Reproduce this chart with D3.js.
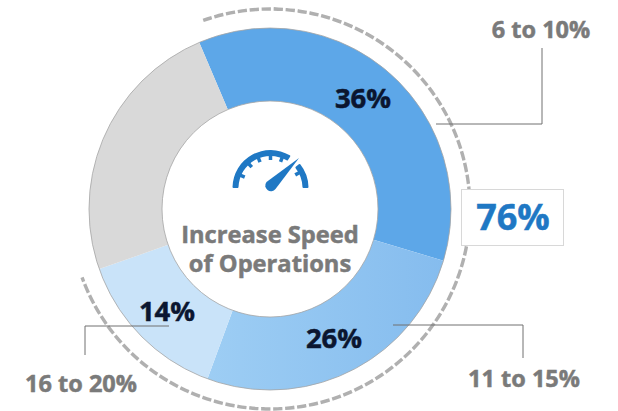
<!DOCTYPE html>
<html>
<head>
<meta charset="utf-8">
<script src="https://cdn.jsdelivr.net/npm/d3@7"></script>
<style>
  html, body { margin: 0; padding: 0; background: #fff; }
  svg { display: block; }
  text { font-family: "Open Sans", sans-serif; font-weight: 700; stroke-width: 0.5; paint-order: stroke; }
</style>
</head>
<body>
<div id="chart"></div>
<script>
// Data
const categories = ["6 to 10%", "11 to 15%", "16 to 20%", "Other"];
const shares = [36, 26, 14, 24];
const colors = ["#5da7e8", "url(#slice26)", "#c9e3f9", "#d9d9d9"];
const titleLines = ["Increase Speed", "of Operations"];
const totalLabel = "76%";
const gaugeTicks = [-67, -42, -22, 0, 21, 62];

const width = 618, height = 411;
const cx = 270, cy = 209;
const outer = 181, inner = 108, dashR = 200;

const svg = d3.select("#chart").append("svg")
  .attr("width", width)
  .attr("height", height);

const deg = d => d * Math.PI / 180;

// The 26% slice gets lighter toward the left
const grad = svg.append("defs").append("linearGradient")
  .attr("id", "slice26")
  .attr("gradientUnits", "userSpaceOnUse")
  .attr("x1", -70).attr("x2", 175)
  .attr("y1", 0).attr("y2", 0);
grad.append("stop").attr("offset", 0).attr("stop-color", "#9ecef4");
grad.append("stop").attr("offset", 1).attr("stop-color", "#85bcee");

const g = svg.append("g").attr("transform", `translate(${cx},${cy})`);

// Donut
const pie = d3.pie().sort(null)
  .startAngle(deg(-23))
  .endAngle(deg(337));
const arc = d3.arc().innerRadius(inner).outerRadius(outer);

g.selectAll("path.slice")
  .data(pie(shares))
  .join("path")
  .attr("class", "slice")
  .attr("d", arc)
  .attr("fill", (d, i) => colors[i]);

// Thin outline on the ring edges only
g.selectAll("circle.edge")
  .data([outer, inner])
  .join("circle")
  .attr("class", "edge")
  .attr("r", d => d)
  .attr("fill", "none")
  .attr("stroke", "#a4a4a4")
  .attr("stroke-width", 0.8);

// Dashed arc around the first three slices
g.append("path")
  .attr("d", d3.arc().innerRadius(dashR).outerRadius(dashR)
    .startAngle(deg(-19.5)).endAngle(deg(250))())
  .attr("fill", "none")
  .attr("stroke", "#b0b0b0")
  .attr("stroke-width", 3.4)
  .attr("stroke-dasharray", "9 3");

// Leader lines
const leaders = [
  [[436, 124], [542, 124], [542, 48]],
  [[393, 325], [523, 325], [523, 358]],
  [[169, 326], [85, 326], [85, 355]]
];
svg.selectAll("path.leader")
  .data(leaders)
  .join("path")
  .attr("class", "leader")
  .attr("d", d3.line())
  .attr("fill", "none")
  .attr("stroke", "#707070")
  .attr("stroke-width", 1);

// Category labels
const catPos = [[541, 30], [524, 379], [81, 384]];
svg.selectAll("text.cat")
  .data(categories.slice(0, 3))
  .join("text")
  .attr("class", "cat")
  .attr("x", (d, i) => catPos[i][0])
  .attr("y", (d, i) => catPos[i][1] + 8)
  .attr("text-anchor", "middle")
  .attr("font-size", 23.5)
  .attr("fill", "#7a7a7a")
  .attr("stroke", "#7a7a7a")
  .text(d => d);

// Percent labels on the slices
const pctPos = [[363, 98], [334, 338], [167, 311]];
svg.selectAll("text.pct")
  .data(shares.slice(0, 3))
  .join("text")
  .attr("class", "pct")
  .attr("x", (d, i) => pctPos[i][0])
  .attr("y", (d, i) => pctPos[i][1] + 10)
  .attr("text-anchor", "middle")
  .attr("font-size", 27.5)
  .attr("fill", "#0b1630")
  .attr("stroke", "#0b1630")
  .text(d => d + "%");

// Total box
svg.append("rect")
  .attr("x", 461.5).attr("y", 189.5)
  .attr("width", 102).attr("height", 56)
  .attr("fill", "#fff")
  .attr("stroke", "#d8d8d8");
svg.append("text")
  .attr("x", 513).attr("y", 230)
  .attr("text-anchor", "middle")
  .attr("font-size", 36)
  .attr("fill", "#1f78c4")
  .attr("stroke", "#1f78c4")
  .text(totalLabel);

// Centre title
svg.selectAll("text.title")
  .data(titleLines)
  .join("text")
  .attr("class", "title")
  .attr("x", 270)
  .attr("y", (d, i) => 243 + i * 29)
  .attr("text-anchor", "middle")
  .attr("font-size", 23.7)
  .attr("fill", "#7a7a7a")
  .attr("stroke", "#7a7a7a")
  .text(d => d);

// Gauge icon
const gauge = svg.append("g").attr("transform", "translate(270.5,188)");
const gaugeArc = d3.arc().innerRadius(32).outerRadius(38).cornerRadius(1);
[[-90, 32], [50, 90]].forEach(([a0, a1]) => {
  gauge.append("path")
    .attr("d", gaugeArc({ startAngle: deg(a0), endAngle: deg(a1) }))
    .attr("fill", "#1f78c4");
});
gauge.selectAll("line")
  .data(gaugeTicks)
  .join("line")
  .attr("x1", d => 33 * Math.sin(deg(d)))
  .attr("y1", d => -33 * Math.cos(deg(d)))
  .attr("x2", d => 28 * Math.sin(deg(d)))
  .attr("y2", d => -28 * Math.cos(deg(d)))
  .attr("stroke", "#1f78c4")
  .attr("stroke-width", 3.5);
gauge.append("path")
  .attr("d", "M28.5,-30 L5,1 A5,5 0 0 1 -4,-6 Z")
  .attr("fill", "#1f78c4");
</script>
</body>
</html>
